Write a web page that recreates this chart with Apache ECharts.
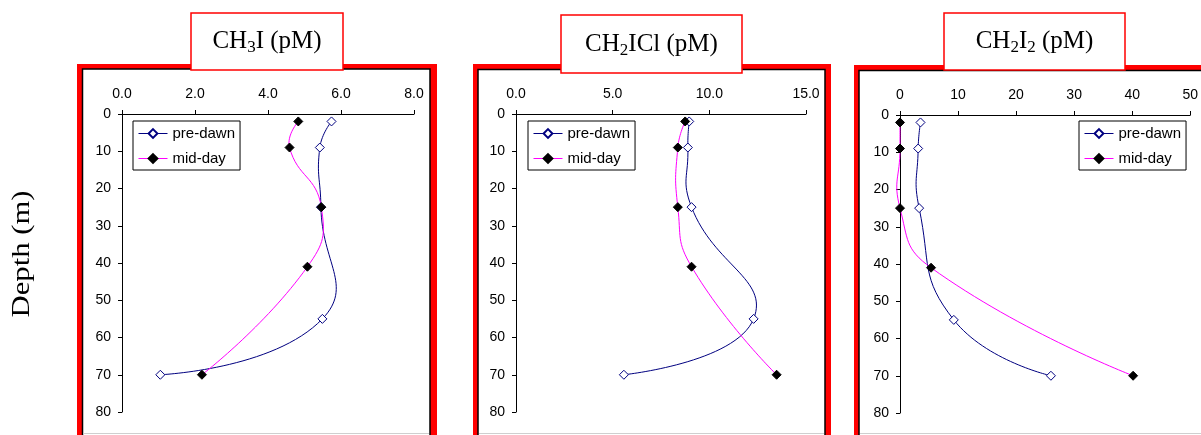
<!DOCTYPE html>
<html>
<head>
<meta charset="utf-8">
<script src="https://cdn.jsdelivr.net/npm/echarts@6/dist/echarts.min.js"></script>
<style>
  html, body { margin: 0; padding: 0; background: #fff; }
  #chart { width: 1201px; height: 435px; }
</style>
</head>
<body>
<div id="chart"></div>
<script>
// depths (m) of the samples
const depthPreDawn = [2, 9, 25, 55, 70];
const depthMidDay = [2, 9, 25, 41, 70];

// concentrations (pM)
const ch3iPreDawn = [5.74, 5.42, 5.45, 5.49, 1.05];
const ch3iMidDay = [4.83, 4.59, 5.46, 5.08, 2.19];
const ch2iclPreDawn = [8.96, 8.89, 9.08, 12.29, 5.58];
const ch2iclMidDay = [8.75, 8.37, 8.37, 9.08, 13.48];
const ch2i2PreDawn = [3.53, 3.13, 3.3, 9.27, 26.0];
const ch2i2MidDay = [0, 0, 0, 5.35, 40.16];

// axis ranges / ticks
const depthMax = 80, depthStep = 10;
const xMax = [8, 15, 50];
const xStep = [2, 5, 10];
const xDecimals = [1, 1, 0];

const PRE_COLOR = '#000080';
const MID_COLOR = '#ff00ff';

const sansFont = '"Liberation Sans", Arial, sans-serif';
const serifFont = '"Liberation Serif", "Times New Roman", serif';

const pair = (xs, ys) => xs.map((v, i) => [v, ys[i]]);

const grids = [
    { left: 122, top: 114, width: 292, height: 298 },
    { left: 516, top: 114, width: 290, height: 298 },
    { left: 900, top: 115, width: 293, height: 298 }
];

const xAxes = grids.map((g, i) => ({
    type: 'value',
    gridIndex: i,
    position: 'top',
    min: 0,
    max: xMax[i],
    interval: xStep[i],
    axisLine: { show: true, onZero: false, lineStyle: { color: '#000', width: 1 } },
    axisTick: { show: true, inside: false, length: 4, lineStyle: { color: '#000' } },
    splitLine: { show: false },
    axisLabel: {
        margin: 13, color: '#000', fontSize: 14, fontFamily: sansFont,
        formatter: v => v.toFixed(xDecimals[i])
    }
}));

const yAxes = grids.map((g, i) => ({
    type: 'value',
    gridIndex: i,
    inverse: true,
    min: 0,
    max: depthMax,
    interval: depthStep,
    axisLine: { show: true, onZero: false, lineStyle: { color: '#000', width: 1 } },
    axisTick: { show: true, length: 4, lineStyle: { color: '#000' } },
    splitLine: { show: false },
    axisLabel: { margin: 11, color: '#000', fontSize: 14, fontFamily: sansFont }
}));

// smoothed curve like the spreadsheet one (no clamping of control points)
function smoothCurve(params, api, color) {
    if (params.dataIndexInside !== 0) return null;
    const n = params.dataInsideLength;
    const pts = [];
    for (let i = 0; i < n; i++) {
        pts.push(api.coord([api.value(0, i), api.value(1, i)]));
    }
    const k = 0.5;
    const cpIn = [], cpOut = [];
    for (let i = 0; i < n; i++) {
        const p = pts[i];
        if (i === 0 || i === n - 1) {
            cpIn.push(p); cpOut.push(p);
            continue;
        }
        const a = pts[i - 1], b = pts[i + 1];
        const vx = b[0] - a[0], vy = b[1] - a[1];
        const lp = Math.hypot(p[0] - a[0], p[1] - a[1]);
        const ln = Math.hypot(b[0] - p[0], b[1] - p[1]);
        const r = ln / (ln + lp);
        cpIn.push([p[0] - vx * k * (1 - r), p[1] - vy * k * (1 - r)]);
        cpOut.push([p[0] + vx * k * r, p[1] + vy * k * r]);
    }
    const children = [];
    for (let i = 0; i < n - 1; i++) {
        children.push({
            type: 'bezierCurve',
            shape: {
                x1: pts[i][0], y1: pts[i][1],
                cpx1: cpOut[i][0], cpy1: cpOut[i][1],
                cpx2: cpIn[i + 1][0], cpy2: cpIn[i + 1][1],
                x2: pts[i + 1][0], y2: pts[i + 1][1]
            },
            style: { stroke: color, lineWidth: 1, fill: 'none' }
        });
    }
    return { type: 'group', children: children };
}

function curve(data, i, color) {
    return {
        name: 'curve' + i + color, type: 'custom', xAxisIndex: i, yAxisIndex: i,
        z: 1, silent: true, data: data,
        renderItem: (params, api) => smoothCurve(params, api, color)
    };
}

function preDawn(data, i) {
    return {
        name: 'pre-dawn', type: 'line', xAxisIndex: i, yAxisIndex: i,
        data: data, z: 3,
        symbol: 'diamond', symbolSize: 9, showAllSymbol: true,
        lineStyle: { color: PRE_COLOR, width: 1, opacity: 0 },
        itemStyle: { color: '#fff', borderColor: PRE_COLOR, borderWidth: 1 }
    };
}
function midDay(data, i) {
    return {
        name: 'mid-day', type: 'line', xAxisIndex: i, yAxisIndex: i,
        data: data, z: 3,
        symbol: 'diamond', symbolSize: 9, showAllSymbol: true,
        lineStyle: { color: MID_COLOR, width: 1, opacity: 0 },
        itemStyle: { color: '#000', borderColor: '#000', borderWidth: 1 }
    };
}

const legendLefts = [133, 528, 1079];
const legends = legendLefts.map(l => ({
    orient: 'vertical',
    left: l, top: 121,
    data: ['pre-dawn', 'mid-day'],
    backgroundColor: '#fff',
    borderColor: '#000', borderWidth: 1,
    padding: [5, 5, 4, 5],
    itemGap: 10, itemWidth: 29, itemHeight: 11,
    lineStyle: { width: 1, opacity: 1 },
    textStyle: { fontSize: 15, color: '#000', fontFamily: sansFont }
}));

// red frames around each panel
const frames = [
    [77, 64, 437, 82.5, 69, 430],
    [473, 64, 831, 478, 69.5, 825],
    [854, 65, 1260, 859, 70.5, 1260]
];
const frameEls = [];
frames.forEach(f => {
    frameEls.push({ type: 'rect', z: -2, silent: true,
        shape: { x: f[0], y: f[1], width: f[2] - f[0], height: 400 },
        style: { fill: '#ff0000' } });
    frameEls.push({ type: 'rect', z: -2, silent: true,
        shape: { x: f[3], y: f[4], width: f[5] - f[3], height: 400 },
        style: { fill: '#fff', stroke: '#000', lineWidth: 1.5 } });
    frameEls.push({ type: 'line', z: -2, silent: true,
        shape: { x1: f[3] + 1, y1: 433.5, x2: f[5] - 1, y2: 433.5 },
        style: { stroke: '#cfcfcf', lineWidth: 1 } });
});

// title boxes
const titleBoxes = [
    { x: 191, y: 13, w: 152, h: 57, text: 'CH{s|3}I (pM)' },
    { x: 561, y: 15, w: 181, h: 58, text: 'CH{s|2}ICl (pM)' },
    { x: 944, y: 13, w: 181, h: 57, text: 'CH{s|2}I{s|2} (pM)' }
];
const titleEls = [];
titleBoxes.forEach(b => {
    titleEls.push({ type: 'rect', z: -1, silent: true,
        shape: { x: b.x, y: b.y, width: b.w, height: b.h },
        style: { fill: '#fff', stroke: '#ff0000', lineWidth: 1.5 } });
    titleEls.push({ type: 'text', z: -1, silent: true,
        x: b.x + b.w / 2, y: b.y + b.h / 2,
        style: {
            text: b.text, fill: '#000',
            font: '25px ' + serifFont,
            align: 'center', verticalAlign: 'middle',
            lineHeight: 30,
            rich: {
                s: { fontSize: 17, fontFamily: serifFont, lineHeight: 20,
                     verticalAlign: 'bottom', fill: '#000' }
            }
        } });
});

const depthLabel = {
    type: 'text', silent: true,
    x: 22, y: 254, rotation: Math.PI / 2, scaleX: 1.18,
    style: {
        text: 'Depth (m)', fill: '#000',
        font: '26px ' + serifFont,
        align: 'center', verticalAlign: 'middle'
    }
};

const chart = echarts.init(document.getElementById('chart'), null, { renderer: 'canvas' });
chart.setOption({
    animation: false,
    backgroundColor: '#fff',
    grid: grids,
    xAxis: xAxes,
    yAxis: yAxes,
    legend: legends,
    graphic: { elements: frameEls.concat(titleEls, [depthLabel]) },
    series: [
        curve(pair(ch3iPreDawn, depthPreDawn), 0, PRE_COLOR),
        curve(pair(ch3iMidDay, depthMidDay), 0, MID_COLOR),
        curve(pair(ch2iclPreDawn, depthPreDawn), 1, PRE_COLOR),
        curve(pair(ch2iclMidDay, depthMidDay), 1, MID_COLOR),
        curve(pair(ch2i2PreDawn, depthPreDawn), 2, PRE_COLOR),
        curve(pair(ch2i2MidDay, depthMidDay), 2, MID_COLOR),
        preDawn(pair(ch3iPreDawn, depthPreDawn), 0),
        midDay(pair(ch3iMidDay, depthMidDay), 0),
        preDawn(pair(ch2iclPreDawn, depthPreDawn), 1),
        midDay(pair(ch2iclMidDay, depthMidDay), 1),
        preDawn(pair(ch2i2PreDawn, depthPreDawn), 2),
        midDay(pair(ch2i2MidDay, depthMidDay), 2)
    ]
});
window.addEventListener('resize', chart.resize);
</script>
</body>
</html>
